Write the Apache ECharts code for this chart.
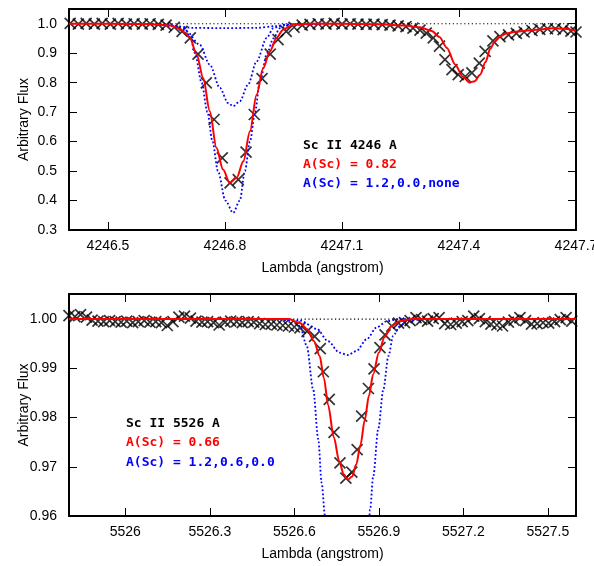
<!DOCTYPE html>
<html><head><meta charset="utf-8">
<script src="https://cdn.jsdelivr.net/npm/echarts@6/dist/echarts.min.js"></script>
<style>html,body{margin:0;padding:0;background:#fff}#c{width:594px;height:566px}</style>
</head><body><div id="c"></div>
<script>
// ---------- TOP PANEL (Sc II 4246) ----------
const topXTicks = [4246.5, 4246.8, 4247.1, 4247.4, 4247.7];
const topYTicks = [0.3, 0.4, 0.5, 0.6, 0.7, 0.8, 0.9, 1.0];

const topObsX = [4246.403, 4246.424, 4246.444, 4246.465, 4246.485, 4246.506, 4246.526, 4246.547, 4246.567, 4246.588, 4246.608, 4246.629, 4246.649, 4246.670,
  4246.690, 4246.711, 4246.731, 4246.752, 4246.772, 4246.793, 4246.813, 4246.834, 4246.854, 4246.875, 4246.895, 4246.916, 4246.936, 4246.957,
  4246.977, 4246.998, 4247.018, 4247.039, 4247.059, 4247.080, 4247.100, 4247.121, 4247.141, 4247.162, 4247.182, 4247.203, 4247.223, 4247.244, 4247.264,
  4247.282, 4247.300, 4247.316, 4247.334, 4247.350, 4247.364, 4247.382, 4247.398, 4247.416, 4247.433, 4247.452, 4247.467, 4247.487, 4247.505,
  4247.527, 4247.547, 4247.567, 4247.587, 4247.607, 4247.627, 4247.647, 4247.667, 4247.687, 4247.700];
const topObsY = [1.001, 0.999, 1.001, 0.999, 1.001, 0.999, 1.001, 0.999, 1.000, 0.999, 1.000, 0.998, 0.995, 0.988,
  0.974, 0.952, 0.897, 0.799, 0.675, 0.545, 0.460, 0.471, 0.564, 0.692, 0.814, 0.897, 0.946, 0.974,
  0.988, 0.995, 0.998, 1.000, 0.999, 1.001, 0.999, 1.000, 0.999, 0.998, 0.999, 0.997, 0.995, 0.993, 0.990,
  0.985, 0.978, 0.968, 0.952, 0.924, 0.878, 0.844, 0.827, 0.821, 0.833, 0.866, 0.906, 0.942, 0.956,
  0.962, 0.967, 0.972, 0.977, 0.981, 0.983, 0.983, 0.980, 0.975, 0.972];

const topFitX = [4246.40, 4246.50, 4246.60, 4246.66, 4246.684, 4246.697, 4246.710, 4246.727, 4246.744, 4246.761, 4246.778, 4246.795, 4246.812, 4246.830,
  4246.847, 4246.864, 4246.881, 4246.898, 4246.915, 4246.932, 4246.949, 4246.975, 4247.02, 4247.10, 4247.20, 4247.26, 4247.30, 4247.33, 4247.35,
  4247.369, 4247.39, 4247.41, 4247.427, 4247.44, 4247.454, 4247.468, 4247.48, 4247.492, 4247.505, 4247.52, 4247.55, 4247.60, 4247.64, 4247.67, 4247.70];
const topFitY = [1.0, 1.0, 0.999, 0.994, 0.983, 0.970, 0.952, 0.897, 0.816, 0.703, 0.579, 0.505, 0.460, 0.477,
  0.533, 0.635, 0.759, 0.850, 0.906, 0.952, 0.980, 0.997, 1.0, 1.0, 0.998, 0.994, 0.988, 0.975, 0.955,
  0.918, 0.862, 0.820, 0.800, 0.805, 0.827, 0.870, 0.915, 0.940, 0.957, 0.966, 0.974, 0.980, 0.985, 0.983, 0.976];

const topHiX = [4246.55, 4246.65, 4246.697, 4246.712, 4246.723, 4246.740, 4246.755, 4246.768, 4246.782, 4246.801, 4246.821, 4246.838, 4246.851,
  4246.864, 4246.877, 4246.889, 4246.908, 4246.924, 4246.941, 4246.97, 4247.05];
const topHiY = [1.0, 0.998, 0.985, 0.950, 0.900, 0.800, 0.700, 0.600, 0.500, 0.400, 0.358, 0.400, 0.500,
  0.600, 0.700, 0.800, 0.900, 0.950, 0.985, 0.997, 1.0];

const topLoX = [4246.55, 4246.65, 4246.701, 4246.735, 4246.761, 4246.787, 4246.808, 4246.821, 4246.838, 4246.859, 4246.881, 4246.907, 4246.924, 4246.95, 4247.05];
const topLoY = [1.0, 0.997, 0.974, 0.929, 0.861, 0.782, 0.731, 0.720, 0.737, 0.793, 0.872, 0.952, 0.985, 0.997, 1.0];

const topNoneX = [4246.55, 4246.62, 4246.67, 4246.72, 4246.80, 4246.88, 4246.93, 4246.97, 4247.05];
const topNoneY = [1.0, 0.998, 0.992, 0.986, 0.985, 0.986, 0.992, 0.998, 1.0];

const topContX = [4246.4, 4247.7];
const topContY = [1.0, 1.0];

// ---------- BOTTOM PANEL (Sc II 5526) ----------
const botXTicks = [5526, 5526.3, 5526.6, 5526.9, 5527.2, 5527.5];
const botYTicks = [0.96, 0.97, 0.98, 0.99, 1.00];

const botObsX = [5525.800, 5525.821, 5525.841, 5525.862, 5525.882, 5525.903, 5525.923, 5525.944, 5525.964, 5525.985, 5526.005, 5526.026, 5526.046, 5526.067,
  5526.087, 5526.108, 5526.128, 5526.149, 5526.169, 5526.190, 5526.210, 5526.231, 5526.251, 5526.272, 5526.292, 5526.313, 5526.333, 5526.354,
  5526.374, 5526.395, 5526.415, 5526.436, 5526.456, 5526.477, 5526.497, 5526.518, 5526.538, 5526.559, 5526.579, 5526.600, 5526.620,
  5526.645, 5526.672, 5526.692, 5526.703, 5526.724, 5526.741, 5526.762, 5526.783, 5526.804, 5526.823, 5526.839, 5526.863, 5526.883, 5526.904,
  5526.922, 5526.946, 5526.970,
  5526.991, 5527.011, 5527.032, 5527.052, 5527.073, 5527.093, 5527.114, 5527.134, 5527.155, 5527.175, 5527.196, 5527.216, 5527.237, 5527.257,
  5527.278, 5527.298, 5527.319, 5527.339, 5527.360, 5527.380, 5527.401, 5527.421, 5527.442, 5527.462, 5527.483, 5527.503, 5527.524, 5527.544,
  5527.565, 5527.585];
const botObsY = [1.0007, 1.0005, 1.0009, 1.0004, 0.9998, 0.9996, 0.9995, 0.9997, 0.9995, 0.9994, 0.9996, 0.9993, 0.9995, 0.9997,
  0.9994, 0.9995, 0.9993, 0.9987, 0.9995, 1.0004, 1.0006, 1.0002, 0.9996, 0.9994, 0.9995, 0.9993, 0.9988, 0.9994,
  0.9996, 0.9995, 0.9993, 0.9995, 0.9994, 0.9991, 0.9989, 0.9990, 0.9988, 0.9987, 0.9986, 0.9984, 0.9982,
  0.9975, 0.9965, 0.9940, 0.9893, 0.9837, 0.9770, 0.9708, 0.9677, 0.9689, 0.9735, 0.9803, 0.9859, 0.9899, 0.9942,
  0.9968, 0.9986, 0.9992,
  0.9993, 0.9997, 1.0003, 0.9999, 0.9996, 1.0001, 1.0003, 0.9991, 0.9989, 0.9992, 0.9995, 0.9997, 1.0006, 1.0001,
  0.9995, 0.9990, 0.9988, 0.9986, 0.9994, 0.9998, 1.0003, 0.9997, 0.9990, 0.9991, 0.9993, 0.9992, 0.9995, 0.9999,
  1.0003, 0.9996];

const botFitX = [5525.80, 5526.58, 5526.62, 5526.645, 5526.67, 5526.69, 5526.705, 5526.72, 5526.74, 5526.76, 5526.775, 5526.79, 5526.805,
  5526.82, 5526.835, 5526.85, 5526.865, 5526.88, 5526.90, 5526.92, 5526.945, 5526.975, 5527.02, 5527.60];
const botFitY = [1.0, 1.0, 0.9992, 0.9980, 0.9955, 0.9925, 0.9880, 0.9825, 0.9760, 0.9710, 0.9685, 0.9674, 0.9680,
  0.9705, 0.9745, 0.9795, 0.9845, 0.9888, 0.9932, 0.9963, 0.9986, 0.9996, 1.0, 1.0];

const botHiX = [5526.55, 5526.60, 5526.62, 5526.644, 5526.667, 5526.685, 5526.697, 5526.709, 5526.716, 5526.862, 5526.869, 5526.880,
  5526.898, 5526.916, 5526.934, 5526.951, 5526.975, 5526.999, 5527.05];
const botHiY = [1.0, 0.9996, 0.9986, 0.9946, 0.9857, 0.9756, 0.9667, 0.9600, 0.9560, 0.9560, 0.9613, 0.9680,
  0.9777, 0.9857, 0.9925, 0.9966, 0.9986, 0.9996, 1.0];

const botLoX = [5526.55, 5526.62, 5526.68, 5526.72, 5526.76, 5526.79, 5526.82, 5526.857, 5526.892, 5526.93, 5526.97, 5527.05];
const botLoY = [1.0, 0.9997, 0.9980, 0.9955, 0.9932, 0.9927, 0.9935, 0.9959, 0.9983, 0.9996, 1.0, 1.0];

const botContX = [5525.8, 5527.6];
const botContY = [1.0, 1.0];

// ---------- build ----------
const zip = (xs, ys) => xs.map((x, i) => [x, ys[i]]);
const FONT = '"Liberation Sans", Arial, Helvetica, sans-serif';
const MONO = '"DejaVu Sans Mono", monospace';
const BLACK = '#000000', RED = '#ff0000', BLUE = '#0000ff';
const X_SYMBOL = 'path://M0,0L10,10M10,0L0,10';

function xAxes(grid, min, max, ticks, fmt) {
  const common = {
    gridIndex: grid, type: 'value', min: min, max: max,
    axisLine: { show: true, onZero: false, lineStyle: { color: BLACK, width: 2 } },
    axisTick: { show: true, inside: true, length: 8, customValues: ticks, lineStyle: { color: BLACK, width: 1 } },
    splitLine: { show: false }
  };
  return [
    Object.assign({}, common, {
      position: 'bottom',
      axisLabel: { show: true, customValues: ticks, formatter: fmt, color: BLACK, fontSize: 14, fontFamily: FONT, margin: 9,
        hideOverlap: false },
      name: 'Lambda (angstrom)', nameLocation: 'middle', nameGap: 31, nameMoveOverlap: false,
      nameTextStyle: { color: BLACK, fontSize: 14, fontFamily: FONT }
    }),
    Object.assign({}, common, { position: 'top', axisLabel: { show: false } })
  ];
}
function yAxes(grid, min, max, ticks, fmt) {
  const common = {
    gridIndex: grid, type: 'value', min: min, max: max,
    axisLine: { show: true, onZero: false, lineStyle: { color: BLACK, width: 2 } },
    axisTick: { show: true, inside: true, length: 8, customValues: ticks, lineStyle: { color: BLACK, width: 1 } },
    splitLine: { show: false }
  };
  return [
    Object.assign({}, common, {
      position: 'left',
      axisLabel: { show: true, customValues: ticks, formatter: fmt, color: BLACK, fontSize: 14, fontFamily: FONT, margin: 12 },
      name: 'Arbitrary Flux', nameLocation: 'middle', nameGap: 38, nameRotate: 90, nameMoveOverlap: false,
      nameTextStyle: { color: BLACK, fontSize: 14, fontFamily: FONT }
    }),
    Object.assign({}, common, { position: 'right', axisLabel: { show: false } })
  ];
}
function panelSeries(xi, yi, obs, cont, blues, fit) {
  const s = [];
  s.push({ type: 'scatter', xAxisIndex: xi, yAxisIndex: yi, data: obs, symbol: X_SYMBOL, symbolSize: 11,
    itemStyle: { color: 'rgba(0,0,0,0)', borderColor: BLACK, borderWidth: 1.7 }, z: 2 });
  s.push({ type: 'line', xAxisIndex: xi, yAxisIndex: yi, data: cont, showSymbol: false, symbol: 'none',
    lineStyle: { color: BLACK, width: 1.2, type: [1.2, 2.6] }, z: 3 });
  blues.forEach(b => s.push({ type: 'line', xAxisIndex: xi, yAxisIndex: yi, data: b, showSymbol: false, symbol: 'none',
    smooth: 0.3, smoothMonotone: 'x', clip: true,
    lineStyle: { color: BLUE, width: 1.8, type: [1.8, 2.2] }, z: 4 }));
  s.push({ type: 'line', xAxisIndex: xi, yAxisIndex: yi, data: fit, showSymbol: false, symbol: 'none',
    smooth: 0.3, smoothMonotone: 'x', clip: true,
    lineStyle: { color: RED, width: 2 }, z: 5 });
  return s;
}

const fmt1 = v => (+v).toFixed(1);
const fmt2 = v => (+v).toFixed(2);
const fmtX = v => String(+(+v).toFixed(1));

const option = {
  animation: false,
  backgroundColor: '#ffffff',
  grid: [
    { left: 69, right: 18, top: 9, height: 221, containLabel: false, outerBoundsMode: 'none' },
    { left: 69, right: 18, top: 294, height: 222, containLabel: false, outerBoundsMode: 'none' }
  ],
  xAxis: [].concat(xAxes(0, 4246.4, 4247.7, topXTicks, fmtX), xAxes(1, 5525.8, 5527.6, botXTicks, fmtX)),
  yAxis: [].concat(yAxes(0, 0.3, 1.05, topYTicks, fmt1), yAxes(1, 0.96, 1.0051, botYTicks, fmt2)),
  series: [].concat(
    panelSeries(0, 0, zip(topObsX, topObsY), zip(topContX, topContY),
      [zip(topHiX, topHiY), zip(topLoX, topLoY), zip(topNoneX, topNoneY)], zip(topFitX, topFitY)),
    panelSeries(2, 2, zip(botObsX, botObsY), zip(botContX, botContY),
      [zip(botHiX, botHiY), zip(botLoX, botLoY)], zip(botFitX, botFitY))
  ),
  graphic: [
    { type: 'text', x: 303, y: 146, style: { text: 'Sc II 4246 A', fill: BLACK, font: 'bold 13px ' + MONO, verticalAlign: 'middle' } },
    { type: 'text', x: 303, y: 165, style: { text: 'A(Sc) = 0.82', fill: RED, font: 'bold 13px ' + MONO, verticalAlign: 'middle' } },
    { type: 'text', x: 303, y: 184, style: { text: 'A(Sc) = 1.2,0.0,none', fill: BLUE, font: 'bold 13px ' + MONO, verticalAlign: 'middle' } },
    { type: 'text', x: 126, y: 424, style: { text: 'Sc II 5526 A', fill: BLACK, font: 'bold 13px ' + MONO, verticalAlign: 'middle' } },
    { type: 'text', x: 126, y: 443, style: { text: 'A(Sc) = 0.66', fill: RED, font: 'bold 13px ' + MONO, verticalAlign: 'middle' } },
    { type: 'text', x: 126, y: 463, style: { text: 'A(Sc) = 1.2,0.6,0.0', fill: BLUE, font: 'bold 13px ' + MONO, verticalAlign: 'middle' } }
  ]
};
const chart = echarts.init(document.getElementById('c'));
chart.setOption(option);
</script></body></html>
